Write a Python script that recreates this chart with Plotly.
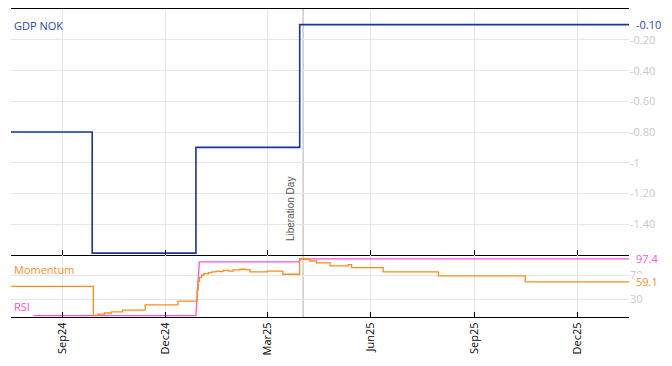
import plotly.graph_objects as go

# ---------------- data ----------------
gdp_dates = ["2024-07-17", "2024-09-27", "2024-12-28", "2025-03-30", "2026-01-16"]
gdp_values = [-0.80, -1.59, -0.90, -0.10, -0.10]

mom_dates = ["2024-07-17", "2024-09-28", "2024-10-02", "2024-10-08", "2024-10-14",
             "2024-10-24", "2024-11-13", "2024-12-12", "2024-12-29", "2024-12-30",
             "2024-12-31", "2025-01-02", "2025-01-04", "2025-01-08", "2025-01-11",
             "2025-01-15", "2025-01-18", "2025-01-21", "2025-01-26", "2025-01-30",
             "2025-02-05", "2025-02-10", "2025-02-14", "2025-03-01", "2025-03-15",
             "2025-03-30", "2025-04-01", "2025-04-08", "2025-04-14", "2025-04-26",
             "2025-05-12", "2025-05-15", "2025-06-12", "2025-07-31", "2025-10-16",
             "2026-01-16"]
mom_values = [51.5, 3.0, 5.0, 7.0, 9.0,
              11.7, 20.5, 26.7, 45.0, 60.0,
              66.0, 70.0, 72.7, 74.5, 75.5,
              77.0, 76.0, 78.3, 77.0, 79.0,
              80.0, 79.5, 75.5, 77.0, 71.7,
              97.7, 96.7, 93.8, 90.5, 85.5,
              87.7, 82.7, 75.5, 68.8, 59.1,
              59.1]

rsi_dates = ["2024-08-06", "2024-12-28", "2024-12-31", "2025-03-29", "2025-03-31", "2026-01-16"]
rsi_values = [2.5, 2.5, 92.2, 92.2, 97.4, 97.4]

x_tick_vals = ["2024-09-01", "2024-12-01", "2025-03-01", "2025-06-01", "2025-09-01", "2025-12-01"]
x_tick_text = ["Sep24", "Dec24", "Mar25", "Jun25", "Sep25", "Dec25"]

y1_tick_vals = [-0.2, -0.4, -0.6, -0.8, -1.0, -1.2, -1.4]
y1_tick_text = ["-0.20", "-0.40", "-0.60", "-0.80", "-1", "-1.20", "-1.40"]
y2_tick_vals = [30, 70]
y2_tick_text = ["30", "70"]

event_date = "2025-04-02"
event_label = "Liberation Day"

# ---------------- styles ----------------
BLUE = "#1436a0"
BLUE_TXT = "#2546b0"
ORANGE = "#ff8c1a"
PINK = "#ff4fd3"
GRID = "#e6e6e6"
TICKGREY = "#c8c8c8"
FONT = "Open Sans"
split = 62 / 308

fig = go.Figure()
fig.add_trace(go.Scatter(x=gdp_dates, y=gdp_values, mode="lines", line=dict(color=BLUE, width=1.6, shape="hv"),
                         xaxis="x", yaxis="y", showlegend=False))
fig.add_trace(go.Scatter(x=rsi_dates, y=rsi_values, mode="lines", line=dict(color=PINK, width=1.3),
                         xaxis="x2", yaxis="y2", showlegend=False))
fig.add_trace(go.Scatter(x=mom_dates, y=mom_values, mode="lines", line=dict(color=ORANGE, width=1.3, shape="hv"),
                         xaxis="x2", yaxis="y2", showlegend=False))

x_range = ["2024-07-17", "2026-01-16"]
common_x = dict(type="date", range=x_range, tickvals=x_tick_vals, ticktext=x_tick_text,
                showgrid=True, gridcolor=GRID, gridwidth=1, showline=True, linecolor="black",
                linewidth=1, ticks="inside", ticklen=5, tickcolor="black", zeroline=False)

fig.update_layout(
    width=672, height=366,
    margin=dict(l=11, r=43, t=9, b=49),
    plot_bgcolor="white", paper_bgcolor="white",
    font=dict(family=FONT, size=11, color="black"),
    xaxis=dict(**common_x, domain=[0, 1], anchor="y", mirror=True, showticklabels=False),
    xaxis2=dict(**common_x, domain=[0, 1], anchor="y2", matches="x", mirror=False, showticklabels=True,
                tickangle=-90, tickfont=dict(family=FONT, size=11, color="black")),
    yaxis=dict(domain=[split, 1], anchor="x", side="right", range=[-1.602, 0.002],
               tickvals=y1_tick_vals, ticktext=y1_tick_text, showgrid=True, gridcolor=GRID,
               zeroline=False, showline=False, ticks="", tickfont=dict(color=TICKGREY, size=11)),
    yaxis2=dict(domain=[0, split], anchor="x2", side="right", range=[0.3, 103.8],
                tickvals=y2_tick_vals, ticktext=y2_tick_text, showgrid=True, gridcolor=GRID,
                zeroline=False, showline=False, ticks="", tickfont=dict(color=TICKGREY, size=11)),
    shapes=[dict(type="line", xref="x", yref="paper", x0=event_date, x1=event_date, y0=0, y1=1,
                 line=dict(color="#b0b0b0", width=1), layer="below")],
    annotations=[
        dict(text="GDP NOK", xref="paper", yref="paper", x=0, y=(317 - 25) / 308, xanchor="left",
             yanchor="middle", xshift=1, showarrow=False, font=dict(color=BLUE_TXT, size=11)),
        dict(text="Momentum", xref="paper", yref="paper", x=0, y=(317 - 269) / 308, xanchor="left",
             yanchor="middle", xshift=1, showarrow=False, font=dict(color=ORANGE, size=11)),
        dict(text="RSI", xref="paper", yref="paper", x=0, y=(317 - 306) / 308, xanchor="left",
             yanchor="middle", xshift=1, showarrow=False, font=dict(color=PINK, size=11)),
        dict(text=f"{gdp_values[-1]:.2f}", xref="paper", yref="y", x=1, y=gdp_values[-1], xanchor="left",
             yanchor="middle", xshift=6, showarrow=False, font=dict(color=BLUE_TXT, size=11),
             bgcolor="white", borderpad=0),
        dict(text=f"{rsi_values[-1]:.1f}", xref="paper", yref="y2", x=1, y=rsi_values[-1], xanchor="left",
             yanchor="middle", xshift=6, showarrow=False, font=dict(color=PINK, size=11),
             bgcolor="white", borderpad=0),
        dict(text=f"{mom_values[-1]:.1f}", xref="paper", yref="y2", x=1, y=mom_values[-1], xanchor="left",
             yanchor="middle", xshift=6, showarrow=False, font=dict(color=ORANGE, size=11),
             bgcolor="white", borderpad=0),
        dict(text=event_label, xref="x", yref="paper", x=event_date, y=split, xanchor="center",
             yanchor="bottom", xshift=-13, yshift=12, textangle=-90, showarrow=False,
             font=dict(family="Liberation Sans", color="#555555", size=10)),
    ],
)

fig.write_html("out.html", config={"displayModeBar": False},
               post_script="document.body.style.margin='0';document.body.style.overflow='hidden';")
